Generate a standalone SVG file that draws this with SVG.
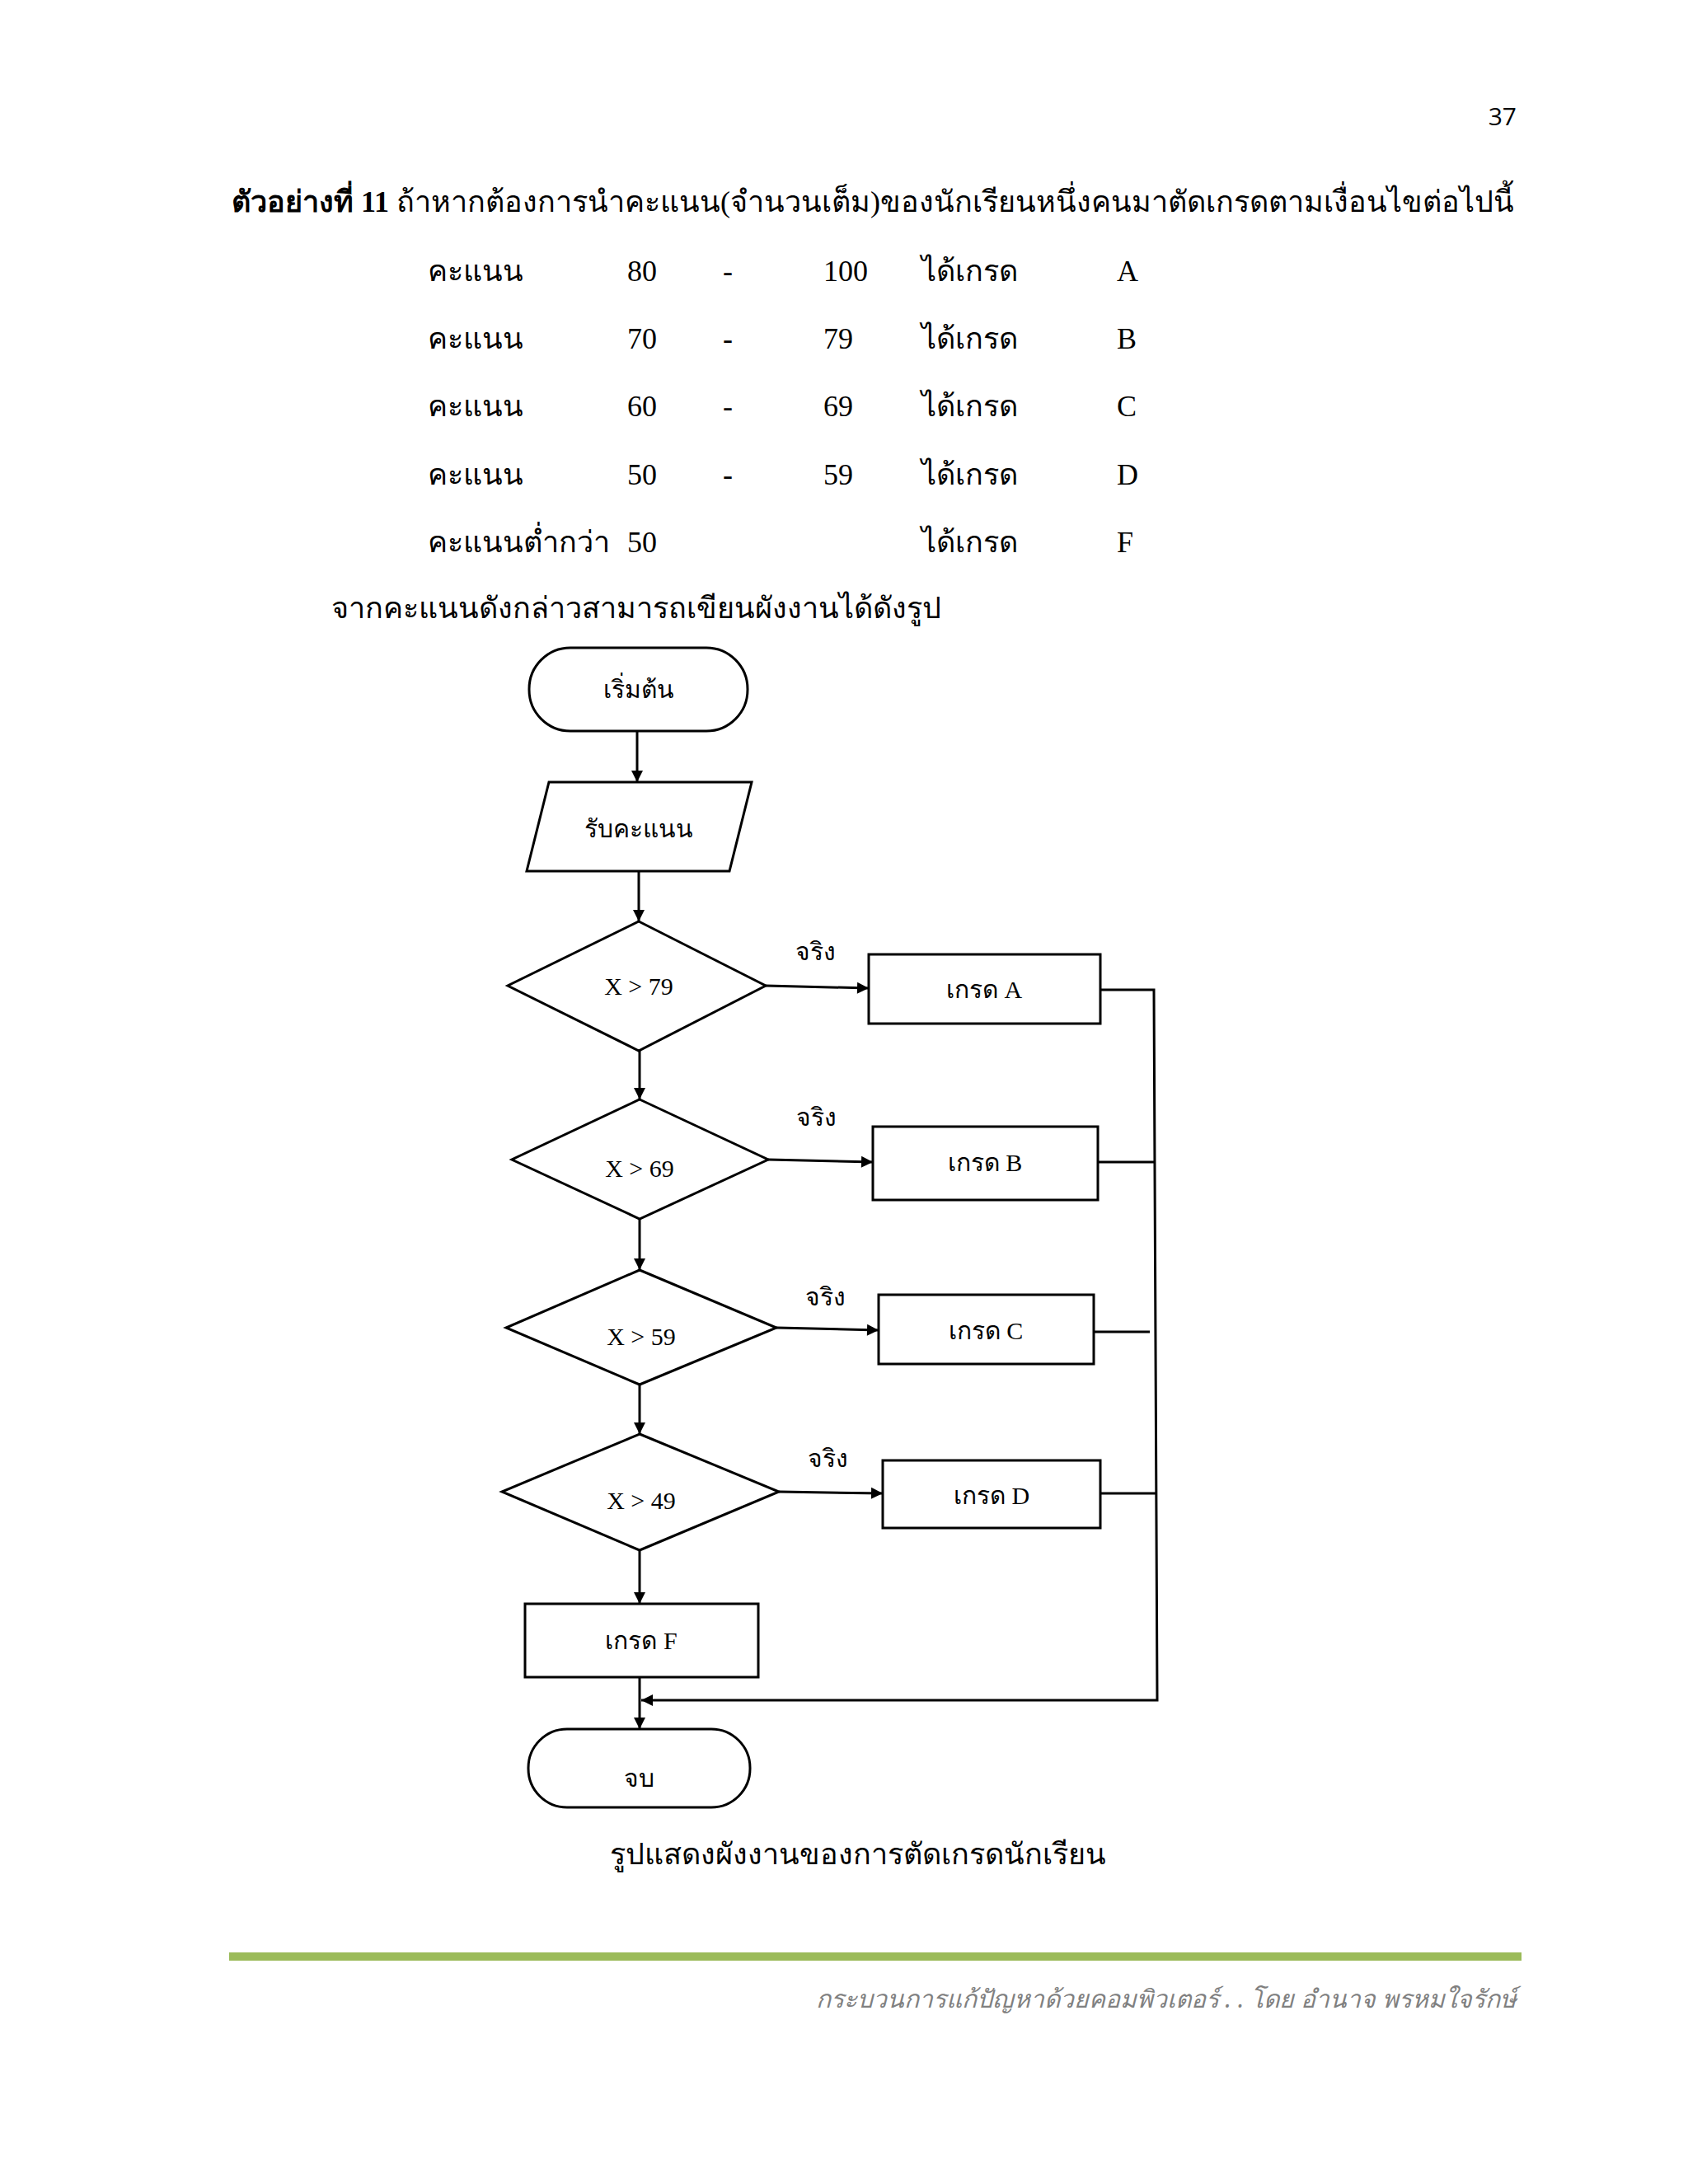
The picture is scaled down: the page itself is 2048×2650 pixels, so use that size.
<svg xmlns="http://www.w3.org/2000/svg" width="2048" height="2650" viewBox="0 0 2048 2650">
<style>
text{font-family:"Liberation Serif","Noto Sans","DejaVu Sans",serif;fill:#000}
.t{font-size:36px}
.n{font-size:30px;text-anchor:middle}
.s{fill:#fff;stroke:#000;stroke-width:3}
.c{fill:none;stroke:#000;stroke-width:3}
</style>
<defs><marker id="ah" viewBox="0 0 10 10" refX="10" refY="5" markerWidth="7" markerHeight="7" orient="auto" markerUnits="userSpaceOnUse" style="overflow:visible"><path d="M0,0L10,5L0,10z" fill="#000" transform="scale(2)" transform-origin="10 5"/></marker></defs>
<rect width="2048" height="2650" fill="#fff"/>
<text x="1840" y="152" style="font-family:'Open Sans',sans-serif;font-size:30px" text-anchor="end">37</text>
<text x="281" y="257" class="t"><tspan font-weight="bold">ตัวอย่างที่ 11</tspan>  ถ้าหากต้องการนำคะแนน(จำนวนเต็ม)ของนักเรียนหนึ่งคนมาตัดเกรดตามเงื่อนไขต่อไปนี้</text>
<g class="t" font-size="36">
<text x="519" y="341" class="t">คะแนน</text><text x="761" y="341" class="t" font-size="30">80</text><text x="877" y="341" class="t">-</text><text x="999" y="341" class="t" font-size="30">100</text><text x="1118" y="341" class="t">ได้เกรด</text><text x="1355" y="341" class="t" font-size="30">A</text>
<text x="519" y="423" class="t">คะแนน</text><text x="761" y="423" class="t" font-size="30">70</text><text x="877" y="423" class="t">-</text><text x="999" y="423" class="t" font-size="30">79</text><text x="1118" y="423" class="t">ได้เกรด</text><text x="1355" y="423" class="t" font-size="30">B</text>
<text x="519" y="505" class="t">คะแนน</text><text x="761" y="505" class="t" font-size="30">60</text><text x="877" y="505" class="t">-</text><text x="999" y="505" class="t" font-size="30">69</text><text x="1118" y="505" class="t">ได้เกรด</text><text x="1355" y="505" class="t" font-size="30">C</text>
<text x="519" y="588" class="t">คะแนน</text><text x="761" y="588" class="t" font-size="30">50</text><text x="877" y="588" class="t">-</text><text x="999" y="588" class="t" font-size="30">59</text><text x="1118" y="588" class="t">ได้เกรด</text><text x="1355" y="588" class="t" font-size="30">D</text>
<text x="519" y="670" class="t">คะแนนต่ำกว่า</text><text x="761" y="670" class="t" font-size="30">50</text><text x="1118" y="670" class="t">ได้เกรด</text><text x="1355" y="670" class="t" font-size="30">F</text>
</g>
<text x="402" y="750" class="t">จากคะแนนดังกล่าวสามารถเขียนผังงานได้ดังรูป</text>
<g id="connectors">
<line class="c" x1="773" y1="887" x2="773" y2="949" marker-end="url(#ah)"/>
<line class="c" x1="775" y1="1057" x2="775" y2="1118" marker-end="url(#ah)"/>
<line class="c" x1="929" y1="1196" x2="1054" y2="1199" marker-end="url(#ah)"/>
<line class="c" x1="776" y1="1275" x2="776" y2="1334" marker-end="url(#ah)"/>
<line class="c" x1="932" y1="1407" x2="1059" y2="1410" marker-end="url(#ah)"/>
<line class="c" x1="776" y1="1479" x2="776" y2="1541" marker-end="url(#ah)"/>
<line class="c" x1="942" y1="1611" x2="1066" y2="1614" marker-end="url(#ah)"/>
<line class="c" x1="776" y1="1680" x2="776" y2="1740" marker-end="url(#ah)"/>
<line class="c" x1="945" y1="1810" x2="1071" y2="1812" marker-end="url(#ah)"/>
<line class="c" x1="776" y1="1881" x2="776" y2="1946" marker-end="url(#ah)"/>
<line class="c" x1="776" y1="2035" x2="776" y2="2098" marker-end="url(#ah)"/>
<polyline class="c" points="1335,1201 1400,1201 1404,2063 778,2063" marker-end="url(#ah)"/>
<line class="c" x1="1332" y1="1410" x2="1400" y2="1410"/>
<line class="c" x1="1327" y1="1616" x2="1395" y2="1616"/>
<line class="c" x1="1335" y1="1812" x2="1403" y2="1812"/>
<text x="989" y="1165" class="n">จริง</text>
<text x="990" y="1366" class="n">จริง</text>
<text x="1001" y="1584" class="n">จริง</text>
<text x="1004" y="1780" class="n">จริง</text>
</g>
<g id="start"><rect class="s" x="642" y="786" width="265" height="101" rx="50"/><text x="775" y="847" class="n">เริ่มต้น</text></g>
<g id="input"><polygon class="s" points="666,949 912,949 885,1057 639,1057"/><text x="775" y="1016" class="n">รับคะแนน</text></g>
<g id="d1"><polygon class="s" points="775,1118 929,1196 775,1275 616,1196"/><text x="775" y="1207" class="n">X  &gt; 79</text></g>
<g id="a"><rect class="s" x="1054" y="1158" width="281" height="84"/><text x="1194" y="1211" class="n">เกรด  A</text></g>
<g id="d2"><polygon class="s" points="776,1334 932,1407 776,1479 621,1407"/><text x="776" y="1428" class="n">X  &gt; 69</text></g>
<g id="b"><rect class="s" x="1059" y="1367" width="273" height="89"/><text x="1195" y="1421" class="n">เกรด  B</text></g>
<g id="d3"><polygon class="s" points="776,1541 942,1611 776,1680 614,1611"/><text x="778" y="1632" class="n">X  &gt;  59</text></g>
<g id="c"><rect class="s" x="1066" y="1571" width="261" height="84"/><text x="1196" y="1625" class="n">เกรด  C</text></g>
<g id="d4"><polygon class="s" points="776,1740 945,1810 776,1881 609,1810"/><text x="778" y="1831" class="n">X  &gt; 49</text></g>
<g id="d"><rect class="s" x="1071" y="1772" width="264" height="82"/><text x="1203" y="1825" class="n">เกรด D</text></g>
<g id="f"><rect class="s" x="637" y="1946" width="283" height="89"/><text x="778" y="2001" class="n">เกรด  F</text></g>
<g id="end"><rect class="s" x="641" y="2098" width="269" height="95" rx="47"/><text x="775" y="2168" class="n">จบ</text></g>
<text x="1041" y="2262" class="t" text-anchor="middle">รูปแสดงผังงานของการตัดเกรดนักเรียน</text>
<rect x="278" y="2369" width="1568" height="10" fill="#9bbb59"/>
<text x="1840" y="2436" text-anchor="end" style="font-family:'Noto Sans',sans-serif;font-style:italic;font-size:30px;fill:#808080">กระบวนการแก้ปัญหาด้วยคอมพิวเตอร์ . . โดย อำนาจ   พรหมใจรักษ์</text>
</svg>
